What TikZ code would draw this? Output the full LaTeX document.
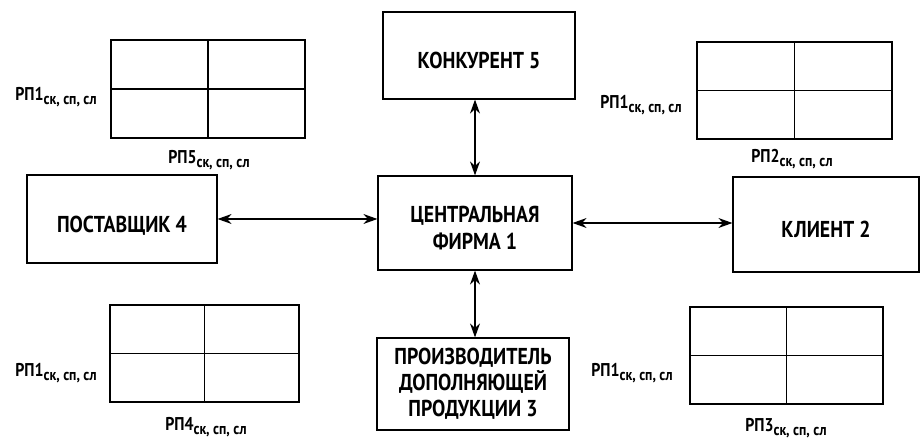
\documentclass[tikz,border=0pt]{standalone}
\usepackage{fontspec}
\setmainfont{PT Sans}
\newfontfamily\firmfont{PT Sans}[FakeStretch=0.86]
\usetikzlibrary{arrows.meta,positioning}

\newcommand{\rpsub}[1]{РП#1\raisebox{-4pt}{\fontsize{16}{16}\selectfont ск, сп, сл}}
\newcommand{\lowtext}[1]{\raisebox{-8pt}[\height][\depth]{\begin{tabular}{@{}c@{}}#1\end{tabular}}}

\begin{document}
\begin{tikzpicture}[x=1pt,y=-1pt,
  firm/.style={draw,line width=1.2pt,align=center,inner sep=0pt,
    font=\firmfont\bfseries\fontsize{23}{27}\selectfont},
  matrixbox/.style={draw,line width=1.2pt,inner sep=0pt},
  lbl/.style={inner sep=0pt,font=\firmfont\bfseries\fontsize{18.5}{20}\selectfont},
  link/.style={line width=1.2pt,{Stealth[length=14pt,width=10pt]}-{Stealth[length=14pt,width=10pt]}}]
  \useasboundingbox (0,0) rectangle (921,443);
  % firms
  \node[firm,minimum width=192pt,minimum height=87pt] (konk) at (479,55.5) {\lowtext{КОНКУРЕНТ 5}};
  \node[firm,minimum width=194pt,minimum height=94pt] (centr) at (475,223) {\lowtext{ЦЕНТРАЛЬНАЯ\\ФИРМА 1}};
  \node[firm,minimum width=190pt,minimum height=88pt] (post) at (122,219) {\lowtext{ПОСТАВЩИК 4}};
  \node[firm,minimum width=186pt,minimum height=95pt] (klient) at (826,224.5) {\lowtext{КЛИЕНТ 2}};
  \node[firm,minimum width=192pt,minimum height=92pt,font=\firmfont\bfseries\fontsize{23}{26}\selectfont] (proizv) at (473,384) {ПРОИЗВОДИТЕЛЬ\\ДОПОЛНЯЮЩЕЙ\\ПРОДУКЦИИ 3};
  % links
  \draw[link] (centr.north) -- (centr.north |- konk.south);
  \draw[link] (post.east) -- (post.east -| centr.west);
  \draw[link] (centr.east) -- (centr.east -| klient.west);
  \draw[link] (centr.south) -- (centr.south |- proizv.north);
  % matrices
  \node[matrixbox,minimum width=194pt,minimum height=98pt] (m5) at (208,89) {};
  \node[matrixbox,minimum width=195pt,minimum height=97pt] (m2) at (794.5,90.5) {};
  \node[matrixbox,minimum width=189pt,minimum height=97pt] (m4) at (204.5,353.5) {};
  \node[matrixbox,minimum width=193pt,minimum height=97pt] (m3) at (786.5,355.5) {};
  \foreach \m in {m5,m2,m4,m3} {
    \draw[line width=1.2pt] (\m.north) -- (\m.south);
    \draw[line width=1.2pt] (\m.west) -- (\m.east);
  }
  % labels
  \node[lbl,anchor=east] (l5a) at (97,97) {\rpsub{1}};
  \node[lbl] (l5b) at (209,160) {\rpsub{5}};
  \node[lbl,anchor=east] (l2a) at (682,105) {\rpsub{1}};
  \node[lbl] (l2b) at (792,159) {\rpsub{2}};
  \node[lbl,anchor=east] (l4a) at (97,373) {\rpsub{1}};
  \node[lbl] (l4b) at (206,427) {\rpsub{4}};
  \node[lbl,anchor=east] (l3a) at (673,373) {\rpsub{1}};
  \node[lbl] (l3b) at (786,428) {\rpsub{3}};
\end{tikzpicture}
\end{document}
